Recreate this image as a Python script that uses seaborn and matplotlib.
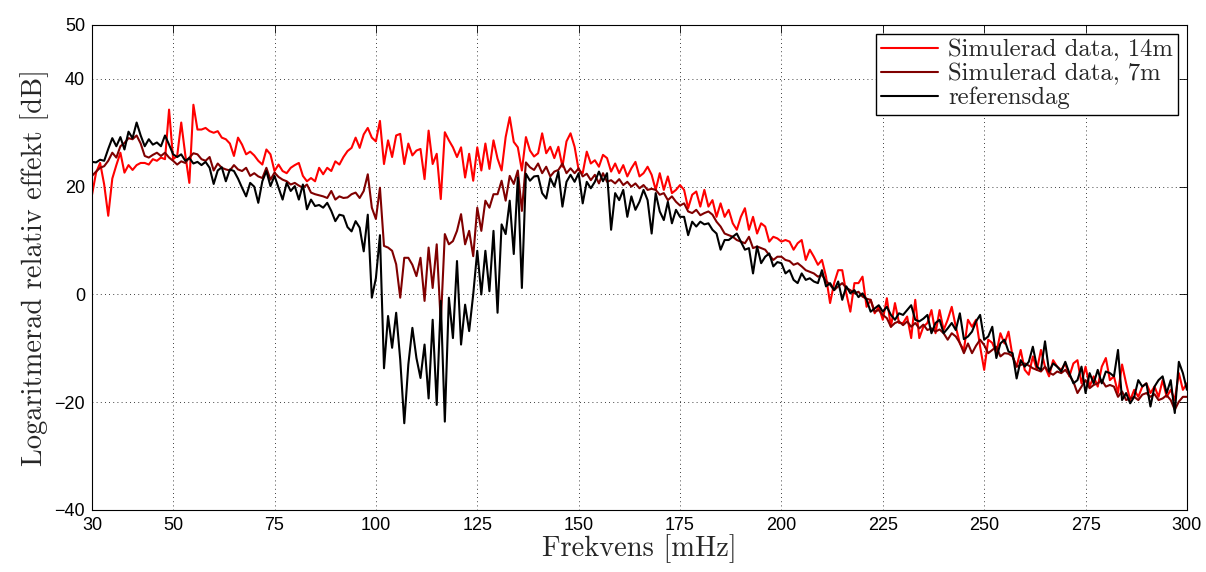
import numpy as np
import pandas as pd
import matplotlib
matplotlib.use("Agg")
import matplotlib.pyplot as plt
import seaborn as sns

# frequency axis, 1 mHz steps
freq = np.arange(30, 301)

# Simulerad data, 14m
sim_14m = [
    18.5, 22.6, 24.4, 20.4, 14.6, 21.5, 24.0, 26.3, 22.6, 24.0,
    23.1, 24.0, 24.4, 24.4, 24.1, 25.1, 24.8, 25.4, 25.1, 34.3,
    25.1, 25.7, 31.9, 25.9, 20.7, 35.2, 30.6, 30.6, 30.9, 30.3,
    30.0, 30.3, 29.1, 28.8, 28.0, 25.7, 29.1, 27.8, 26.0, 26.5,
    25.8, 24.8, 24.1, 26.9, 26.0, 22.9, 24.1, 22.9, 22.5, 23.5,
    24.0, 24.4, 22.0, 21.0, 21.6, 21.0, 23.5, 22.3, 23.5, 22.9,
    24.7, 24.1, 25.5, 26.6, 27.2, 29.1, 27.2, 29.7, 30.9, 29.1,
    28.4, 32.2, 24.2, 28.6, 25.5, 29.5, 29.8, 24.2, 28.0, 25.8,
    26.7, 27.0, 21.4, 30.4, 24.2, 26.1, 17.7, 30.1, 28.6, 27.3,
    25.5, 27.3, 21.7, 26.1, 21.1, 27.3, 23.0, 28.0, 23.3, 28.6,
    25.2, 23.0, 29.2, 32.9, 28.3, 27.3, 23.0, 29.2, 26.7, 25.6,
    26.2, 29.9, 26.2, 27.4, 25.3, 27.4, 23.7, 28.4, 29.9, 27.4,
    23.1, 22.5, 26.5, 24.3, 24.9, 23.7, 25.9, 25.3, 22.8, 24.3,
    22.5, 24.0, 21.9, 23.4, 24.6, 21.9, 22.5, 23.7, 22.2, 19.4,
    22.5, 19.4, 21.9, 18.8, 19.4, 20.3, 19.4, 16.0, 18.5, 19.1,
    16.3, 19.4, 16.3, 17.5, 14.4, 16.9, 14.4, 15.7, 13.2, 12.0,
    14.4, 16.0, 12.0, 14.4, 11.3, 13.2, 12.6, 9.8, 10.7, 10.4,
    9.8, 10.1, 9.8, 8.3, 9.5, 10.1, 6.4, 8.3, 7.0, 5.5,
    6.4, 3.3, -1.6, 2.1, 4.5, 4.5, 0.2, -3.2, 2.1, 2.1,
    3.3, -2.3, -1.0, -3.5, -2.3, -4.7, -0.7, -6.0, -1.6, -5.3,
    -5.3, -4.1, -8.1, -1.0, -8.1, -6.0, -5.3, -2.9, -7.2, -2.9,
    -6.6, -4.7, -2.3, -6.0, -9.1, -10.3, -4.7, -6.0, -4.7, -9.7,
    -14.0, -8.4, -9.0, -10.9, -7.2, -9.1, -6.9, -11.5, -13.4, -10.3,
    -14.0, -14.9, -11.5, -14.0, -10.3, -13.4, -15.2, -12.2, -13.4, -14.0,
    -12.8, -15.2, -12.8, -12.2, -16.5, -13.4, -17.1, -15.2, -17.1, -13.4,
    -11.8, -15.9, -15.2, -18.3, -13.0, -16.5, -19.6, -17.7, -19.0, -17.1,
    -16.5, -18.3, -17.1, -19.0, -15.9, -19.0, -17.7, -19.6, -14.6, -17.7, -16.5,
]

# Simulerad data, 7m
sim_7m = [
    22.0, 22.8, 23.5, 23.8, 24.8, 26.3, 25.4, 27.5, 28.1, 29.0,
    28.8, 29.5, 28.0, 25.7, 25.4, 25.9, 26.3, 25.7, 26.3, 25.4,
    24.8, 24.1, 24.7, 24.4, 25.4, 26.2, 26.0, 25.1, 24.8, 25.5,
    23.0, 24.3, 23.5, 23.2, 23.0, 24.0, 23.2, 22.9, 23.5, 22.0,
    22.5, 21.9, 21.6, 23.5, 21.3, 22.6, 21.8, 21.3, 21.0, 20.4,
    20.7, 20.2, 19.8, 20.4, 18.9, 18.6, 18.4, 18.2, 17.9, 19.2,
    17.6, 18.2, 17.9, 18.0, 18.6, 18.9, 17.9, 19.2, 22.3, 16.1,
    14.0, 19.8, 9.0, 8.7, 8.1, 5.6, -0.6, 6.8, 6.8, 5.5,
    3.4, 6.8, -1.2, 8.7, 1.2, 9.3, -5.3, 11.2, 9.3, 9.9,
    11.8, 14.9, 9.3, 11.8, 7.1, 16.1, 11.8, 17.4, 16.1, 18.6,
    18.6, 21.1, 17.4, 22.0, 20.5, 23.0, 15.5, 24.5, 23.6, 23.1,
    24.3, 22.5, 23.7, 21.9, 22.8, 23.1, 24.3, 22.5, 23.4, 22.5,
    23.4, 21.9, 22.4, 21.2, 22.2, 20.6, 22.5, 20.9, 21.2, 20.6,
    21.4, 20.3, 20.9, 20.0, 20.6, 19.7, 20.3, 19.4, 19.6, 19.4,
    18.5, 18.8, 17.5, 18.2, 17.2, 16.5, 16.9, 15.4, 15.1, 15.7,
    14.7, 15.1, 15.4, 14.8, 13.5, 12.6, 11.3, 11.0, 10.7, 10.1,
    9.8, 9.5, 10.7, 8.6, 8.9, 8.6, 8.3, 7.3, 6.4, 7.0,
    7.0, 6.4, 6.2, 5.5, 5.8, 5.2, 4.5, 4.2, 3.9, 3.3,
    3.6, 2.5, 1.8, 0.8, 1.5, 2.1, 1.2, 0.8, 0.2, 0.5,
    -0.4, -0.8, -1.0, -3.2, -2.9, -3.8, -4.4, -6.0, -5.3, -5.0,
    -5.7, -5.0, -6.0, -5.3, -6.3, -5.6, -6.6, -6.3, -6.9, -6.5,
    -7.2, -8.4, -7.2, -7.8, -9.0, -10.9, -9.1, -10.9, -9.5, -8.4,
    -9.4, -10.9, -10.3, -9.7, -11.5, -10.9, -11.0, -11.5, -13.4, -13.1,
    -12.8, -13.2, -13.7, -14.0, -14.3, -13.4, -14.5, -14.9, -14.3, -14.6,
    -14.0, -15.0, -16.2, -18.3, -17.1, -15.9, -17.4, -16.8, -16.5, -15.9,
    -17.1, -16.8, -17.1, -19.0, -18.0, -19.6, -19.3, -19.0, -19.6, -18.6,
    -18.3, -19.0, -18.5, -19.6, -19.3, -18.7, -19.6, -21.4, -19.9, -19.0, -19.0,
]

# referensdag
ref_day = [
    24.6, 24.5, 25.0, 24.8, 27.0, 29.0, 27.5, 29.2, 26.9, 30.2,
    29.0, 31.9, 29.5, 27.5, 28.8, 27.8, 28.2, 27.5, 29.5, 27.8,
    26.0, 25.5, 26.0, 24.8, 25.3, 24.3, 24.6, 24.0, 24.6, 23.5,
    20.5, 23.0, 23.6, 21.0, 23.2, 22.9, 21.5, 19.8, 18.2, 20.7,
    20.0, 17.0, 21.0, 22.9, 20.1, 22.0, 19.8, 17.6, 20.7, 19.2,
    20.1, 17.6, 20.4, 15.8, 17.6, 16.4, 16.6, 16.1, 17.0, 15.5,
    13.6, 14.8, 14.6, 12.5, 11.7, 13.6, 12.4, 8.0, 14.8, -0.6,
    3.0, 11.0, -13.7, -4.0, -9.9, -3.4, -12.1, -23.9, -13.0, -6.2,
    -11.8, -15.5, -9.3, -19.3, -4.7, -20.5, -1.2, -23.6, -0.6, -8.1,
    6.2, -9.3, -1.9, -6.8, 0.0, 8.1, 0.0, 8.1, 0.6, 11.8,
    -3.4, 13.0, 11.2, 17.4, 7.5, 21.7, 1.2, 22.4, 21.1, 21.9,
    22.0, 18.8, 17.8, 21.6, 20.0, 22.8, 16.3, 20.9, 22.2, 20.9,
    22.5, 16.9, 20.9, 19.7, 20.9, 22.8, 21.0, 22.5, 12.0, 18.8,
    17.5, 19.4, 14.4, 18.2, 15.7, 17.2, 19.4, 17.5, 11.3, 18.8,
    15.4, 13.8, 17.2, 13.2, 15.7, 14.4, 14.4, 11.0, 13.5, 12.6,
    13.5, 13.0, 13.2, 12.0, 11.3, 8.3, 10.1, 10.1, 10.7, 11.3,
    9.8, 8.3, 8.6, 3.9, 8.9, 5.8, 7.0, 7.6, 5.2, 6.0,
    5.8, 3.9, 4.5, 2.7, 2.1, 3.9, 2.7, 3.0, 2.4, 2.1,
    4.5, 1.5, 2.1, 0.8, 2.4, -1.0, 1.5, 0.2, 0.8, -0.5,
    0.2, -1.0, -3.2, -2.6, -2.0, -3.2, -2.3, -3.8, -4.7, -3.5,
    -3.8, -2.9, -2.0, -4.7, -5.0, -4.5, -3.8, -7.2, -5.3, -4.7,
    -7.2, -6.3, -5.3, -6.6, -3.5, -8.3, -7.8, -6.9, -5.0, -3.8,
    -8.4, -7.8, -6.0, -11.8, -9.1, -8.4, -10.6, -10.9, -15.6, -12.2,
    -13.4, -12.5, -9.7, -13.4, -14.0, -8.7, -14.3, -12.8, -13.4, -14.3,
    -12.5, -14.6, -16.5, -15.9, -13.4, -18.3, -14.6, -16.5, -14.0, -16.5,
    -14.3, -14.6, -15.2, -10.3, -19.6, -18.3, -20.2, -19.0, -15.9, -17.1,
    -16.5, -20.8, -17.1, -15.9, -15.2, -18.3, -15.9, -22.0, -12.5, -14.6, -17.7,
]

labels = ["Simulerad data, 14m", "Simulerad data, 7m", "referensdag"]
colors = ["#ff0000", "#800000", "#000000"]
x_ticks = [30, 50, 75, 100, 125, 150, 175, 200, 225, 250, 275, 300]
y_ticks = [-40, -20, 0, 20, 40, 50]

df = pd.concat([
    pd.DataFrame({"freq": freq, "dB": sim_14m, "serie": labels[0]}),
    pd.DataFrame({"freq": freq, "dB": sim_7m, "serie": labels[1]}),
    pd.DataFrame({"freq": freq, "dB": ref_day, "serie": labels[2]}),
])

sns.set_style("white")
plt.rcParams["font.family"] = ["Liberation Sans", "DejaVu Sans"]
serif = ["cmr10", "DejaVu Serif"]

fig = plt.figure(figsize=(12.06, 5.72), dpi=100)
ax = fig.add_axes([0.0763, 0.1084, 0.9079, 0.8479])

sns.lineplot(data=df, x="freq", y="dB", hue="serie", hue_order=labels,
             palette=colors, estimator=None, sort=False, lw=1.5, ax=ax)

ax.set_xlim(30, 300)
ax.set_ylim(-40, 50)
ax.set_xticks(x_ticks)
ax.set_yticks(y_ticks)
ax.tick_params(direction="in", length=6, width=0.6, labelsize=13,
               top=True, right=True, colors="k", pad=5)
ax.grid(True, color="k", lw=0.6, linestyle=(0, (1, 4)))
for s in ax.spines.values():
    s.set_color("k")
    s.set_linewidth(0.8)

ax.set_xlabel("Frekvens [mHz]", fontsize=20.5, family=serif, labelpad=0)
ax.set_ylabel("Logaritmerad relativ effekt [dB]", fontsize=20.5, family=serif, labelpad=4)

leg = ax.legend(loc="upper right", prop={"family": serif, "size": 17.8},
                frameon=True, fancybox=False, edgecolor="k", framealpha=1,
                borderaxespad=0.35, handlelength=2.3, handletextpad=0.4,
                labelspacing=0.06, borderpad=0.22)
leg.get_frame().set_linewidth(1.0)

fig.savefig("out.png", dpi=100)
